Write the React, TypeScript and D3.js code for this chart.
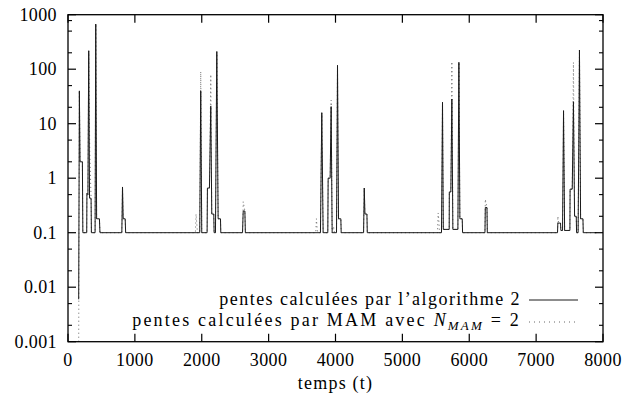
import React from "react";
import * as d3 from "d3";

const solidT = [160,170,180,215,222,280,283,298,310,322,345,350,405,415,428,470,478,805,815,825,855,862,1970,1985,2000,2080,2085,2115,2135,2150,2180,2185,2205,2225,2245,2280,2285,2610,2620,2645,2652,3775,3795,3815,3885,3890,3920,3935,3950,4015,4030,4045,4080,4085,4420,4430,4440,4470,4475,5585,5600,5612,5700,5702,5725,5740,5755,5830,5845,5860,5895,5900,6235,6240,6265,6270,7320,7325,7365,7370,7395,7410,7426,7505,7508,7540,7558,7575,7600,7605,7628,7648,7665,7700,7705,7900];
const solidV = [0.006,40,2,2,0.1,0.1,0.53,0.5,218,0.43,0.43,0.1,0.1,675,0.18,0.18,0.1,0.1,0.69,0.18,0.18,0.1,0.1,40,0.1,0.1,0.66,0.66,21,0.22,0.22,0.1,0.1,210,0.18,0.18,0.1,0.1,0.25,0.25,0.1,0.1,15.9,0.1,0.1,1.0,1.0,20.6,0.1,0.1,118,0.18,0.18,0.1,0.1,0.66,0.22,0.22,0.1,0.1,24.7,0.115,0.115,0.56,0.56,28.4,0.115,0.115,134,0.18,0.18,0.1,0.1,0.29,0.29,0.1,0.1,0.15,0.15,0.11,0.11,17.3,0.11,0.11,0.63,0.63,25.3,0.2,0.2,0.1,0.1,225,0.18,0.18,0.1,0.1];

const mamT = [160,170,180,215,222,280,283,298,310,325,345,350,405,415,428,470,478,805,815,825,855,862,1905,1915,1925,1935,1970,1985,2000,2080,2085,2115,2135,2150,2180,2185,2205,2225,2245,2280,2285,2610,2620,2645,2652,3705,3715,3725,3735,3775,3795,3815,3885,3890,3920,3935,3950,3970,3985,4015,4030,4045,4080,4085,4420,4430,4440,4470,4475,5525,5535,5545,5555,5585,5600,5612,5700,5702,5725,5740,5755,5830,5845,5860,5895,5900,6235,6240,6265,6270,7320,7325,7335,7365,7370,7395,7410,7426,7505,7508,7540,7558,7575,7600,7605,7628,7648,7665,7700,7705,7900];
const mamV = [0.001,40,2,2,0.1,0.1,0.53,0.5,218,3.1,0.43,0.1,0.1,675,0.18,0.18,0.1,0.1,0.69,0.18,0.18,0.1,0.1,0.22,0.15,0.1,0.1,90,0.1,0.1,0.66,0.66,80,0.22,0.22,0.1,0.1,210,0.18,0.18,0.1,0.1,0.37,0.25,0.1,0.1,0.18,0.12,0.1,0.1,15.9,0.1,0.1,1.0,1.0,27,0.1,0.13,0.1,0.1,118,0.18,0.18,0.1,0.1,0.66,0.22,0.22,0.1,0.1,0.23,0.17,0.1,0.1,24.7,0.115,0.115,0.56,0.56,137,0.115,0.115,134,0.18,0.18,0.1,0.1,0.41,0.29,0.1,0.1,0.2,0.15,0.15,0.11,0.11,17.3,0.11,0.11,0.63,0.63,133,0.2,0.2,0.1,0.1,225,0.18,0.18,0.1,0.1];

const yMajor = [0.001, 0.01, 0.1, 1, 10, 100, 1000];
const yMajorLabels = ["0.001", "0.01", "0.1", "1", "10", "100", "1000"];
const yMinor = [0.002, 0.005, 0.02, 0.05, 0.2, 0.5, 2, 5, 20, 50, 200, 500, 780];
const xTicks = [0, 1000, 2000, 3000, 4000, 5000, 6000, 7000, 8000];
const xLabel = "temps (t)";
const legend1 = "pentes calculées par l’algorithme 2";
const legend2 = "pentes calculées par MAM avec ";

const W = 628, H = 401;
const L = 68, R = 603, T = 14.7, B = 341.7;
const FONT = "\"Liberation Serif\", \"Times New Roman\", serif";

export default function App() {
  const x = d3.scaleLinear().domain([0, 8000]).range([L, R]);
  const y = d3.scaleLog().domain([0.001, 1000]).range([B, T]);
  const mk = (ts: number[], vs: number[]) =>
    d3.line<number>().x((t) => x(t)).y((_, i) => y(vs[i]))(ts) || "";
  const solidPath = mk(solidT, solidV);
  const mamPath = mk(mamT, mamV);
  const txt = { fontFamily: FONT };

  return (
    <svg width={W} height={H} style={{ position: "absolute", left: 0, top: 0, background: "#fff" }}>
      <rect x={0} y={0} width={W} height={H} fill="#fff" />
      <path d={mamPath} fill="none" stroke="#666" strokeWidth={1} strokeDasharray="1 3" />
      <path d={solidPath} fill="none" stroke="#1a1a1a" strokeWidth={1} />
      <rect x={L} y={T} width={R - L} height={B - T} fill="none" stroke="#000" strokeWidth={1.3} />
      {yMajor.map((v, i) => (
        <g key={"ym" + i}>
          <line x1={L} x2={L + 8} y1={y(v)} y2={y(v)} stroke="#000" strokeWidth={1.2} />
          <line x1={R} x2={R - 8} y1={y(v)} y2={y(v)} stroke="#000" strokeWidth={1.2} />
          <text x={57} y={y(v) + 6} textAnchor="end" fontSize={18} letterSpacing={0.4} fill="#000" style={txt}>{yMajorLabels[i]}</text>
        </g>
      ))}
      {yMinor.map((v, i) => (
        <g key={"yn" + i}>
          <line x1={L} x2={L + 4} y1={y(v)} y2={y(v)} stroke="#000" strokeWidth={1.1} />
          <line x1={R} x2={R - 4} y1={y(v)} y2={y(v)} stroke="#000" strokeWidth={1.1} />
        </g>
      ))}
      {xTicks.map((t, i) => (
        <g key={"x" + i}>
          <line x1={x(t)} x2={x(t)} y1={B} y2={B - 8} stroke="#000" strokeWidth={1.2} />
          <line x1={x(t)} x2={x(t)} y1={T} y2={T + 8} stroke="#000" strokeWidth={1.2} />
          <text x={x(t)} y={366} textAnchor="middle" fontSize={18} letterSpacing={0.4} fill="#000" style={txt}>{String(t)}</text>
        </g>
      ))}
      <text x={(L + R) / 2} y={389} textAnchor="middle" fontSize={18} letterSpacing={1.2} fill="#000" style={txt}>{xLabel}</text>
      <text x={521} y={305} textAnchor="end" fontSize={18} letterSpacing={1.45} fill="#000" style={txt}>{legend1}</text>
      <line x1={529} x2={578} y1={300} y2={300} stroke="#1a1a1a" strokeWidth={1} />
      <text x={521} y={326} textAnchor="end" fontSize={18} letterSpacing={2.2} fill="#000" style={txt}>
        {legend2}
        <tspan fontStyle="italic">N</tspan>
        <tspan fontStyle="italic" fontSize={13} dy={4}>MAM</tspan>
        <tspan dy={-4}> = 2</tspan>
      </text>
      <line x1={529} x2={578} y1={322} y2={322} stroke="#666" strokeWidth={1} strokeDasharray="1 4" />
    </svg>
  );
}
